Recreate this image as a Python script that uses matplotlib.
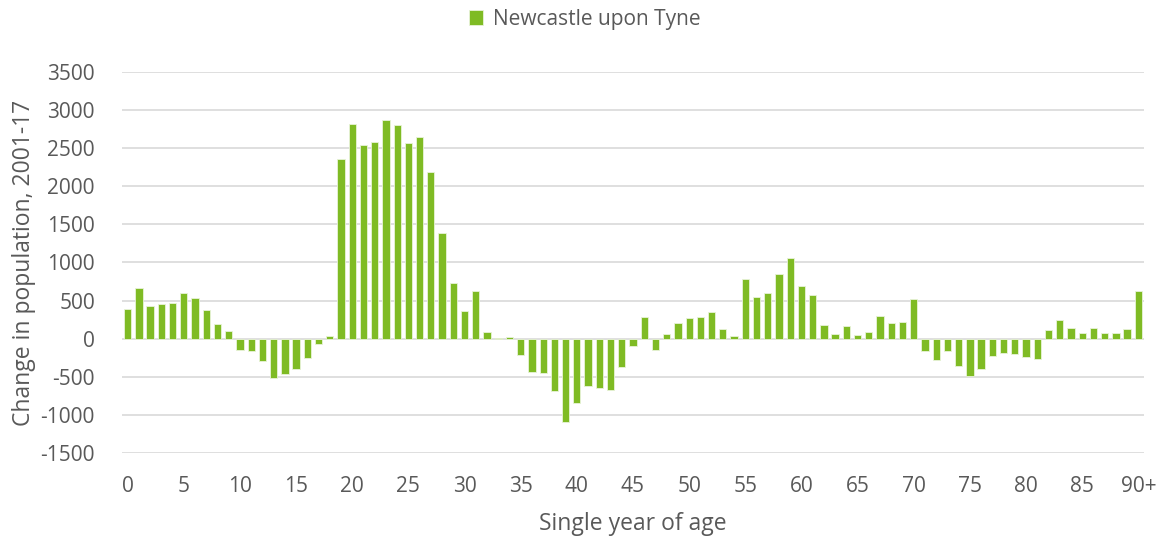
import numpy as np
import matplotlib.pyplot as plt

plt.rcParams['font.family'] = ['Open Sans', 'DejaVu Sans']

# change in population 2001-17 by single year of age (0 .. 90+)
ages = [str(a) for a in range(90)] + ['90+']
change = [
    390, 671, 425, 460, 465, 605, 531, 382, 197, 105,
    -149, -162, -289, -518, -465, -399, -254, -75, 39, 2360,
    2820, 2544, 2583, 2873, 2798, 2566, 2649, 2189, 1382, 728,
    364, 627, 83, 4, 18, -215, -443, -452, -684, -1088,
    -846, -623, -649, -671, -377, -101, 285, -145, 57, 202,
    268, 289, 351, 123, 31, 789, 553, 605, 851, 1053,
    697, 575, 184, 57, 167, 48, 88, 294, 202, 219,
    526, -162, -281, -158, -355, -491, -399, -232, -193, -202,
    -237, -268, 118, 241, 136, 70, 140, 70, 79, 123,
    623,
]
series_name = 'Newcastle upon Tyne'
yticks = [-1500, -1000, -500, 0, 500, 1000, 1500, 2000, 2500, 3000, 3500]

green = '#7fbb24'
grey_txt = '#595959'

fig = plt.figure(figsize=(11.62, 5.38), dpi=100)
ax = fig.add_axes([0.105, 0.158, 0.8795, 0.7082])

x = np.arange(len(ages))
ax.bar(x, change, width=0.65, color=green, edgecolor='#e8f3d8', linewidth=0.6,
       label=series_name, zorder=3)

ax.set_xlim(-0.5, len(ages) - 0.5)
ax.set_ylim(-1500, 3500)
ax.set_yticks(yticks)
ax.set_yticklabels([str(v) for v in yticks])
ax.set_xticks(x[::5])
ax.set_xticklabels(ages[::5])
ax.xaxis.set_ticks_position('none')
ax.yaxis.set_ticks_position('none')
ax.tick_params(axis='both', labelsize=15, colors=grey_txt)
ax.tick_params(axis='y', pad=16)
ax.tick_params(axis='x', pad=13)

ax.grid(axis='y', color='#d9d9d9', linewidth=1.2, zorder=0)
for s in ax.spines.values():
    s.set_visible(False)

ax.set_xlabel('Single year of age', fontsize=16.5, color=grey_txt, labelpad=11)
ax.set_ylabel('Change in population, 2001-17', fontsize=16.5, color=grey_txt, labelpad=3)

fig.legend(loc='center', bbox_to_anchor=(0.503, 0.964), frameon=False,
           fontsize=15, labelcolor=grey_txt, handlelength=0.7, handleheight=0.7,
           handletextpad=0.45)

fig.savefig('out.png', dpi=100)
